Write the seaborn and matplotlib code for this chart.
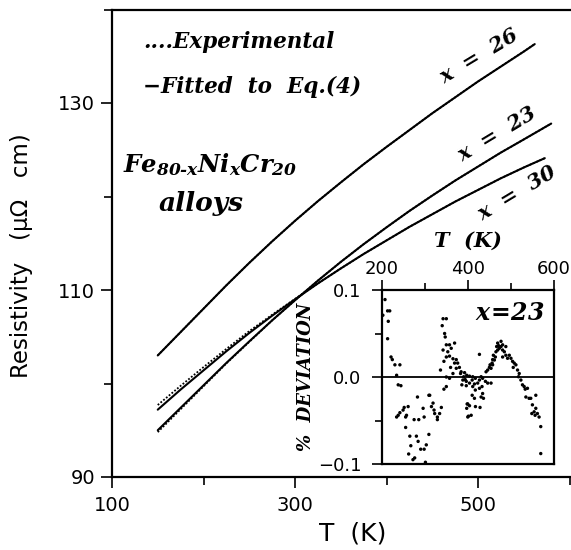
import matplotlib
matplotlib.use("Agg")
import matplotlib.pyplot as plt
import seaborn as sns
import pandas as pd

# Fitted resistivity (μΩ cm) of Fe(80-x)Ni(x)Cr(20) alloys vs temperature (K)
T_26 = [150, 175, 200, 225, 250, 275, 300, 325, 350, 375, 400, 425, 450, 475, 500, 525, 550, 562]
rho_26 = [103.0, 105.5, 108.0, 110.5, 112.9, 115.2, 117.4, 119.5, 121.5, 123.45, 125.3,
          127.1, 128.9, 130.6, 132.3, 133.9, 135.5, 136.3]
T_23 = [150, 175, 200, 225, 250, 275, 300, 325, 350, 375, 400, 425, 450, 475, 500, 525, 550, 580]
rho_23 = [95.0, 97.4, 99.8, 102.2, 104.5, 106.75, 108.9, 111.0, 113.0, 114.9, 116.7,
          118.45, 120.1, 121.7, 123.2, 124.7, 126.1, 127.8]
T_30 = [150, 175, 200, 225, 250, 275, 300, 325, 350, 375, 400, 425, 450, 475, 500, 525, 550, 573]
rho_30 = [97.2, 99.35, 101.4, 103.45, 105.4, 107.25, 109.0, 110.7, 112.3, 113.85, 115.3,
          116.75, 118.1, 119.45, 120.7, 121.95, 123.1, 124.1]

# Experimental resistivity
exp_rho_26 = [103.0, 105.5, 108.0, 110.5, 112.9, 115.2, 117.4, 119.5, 121.5, 123.45, 125.3,
              127.1, 128.9, 130.6, 132.3, 133.9, 135.5, 136.3]
exp_rho_23 = [94.8, 97.25, 99.7, 102.15, 104.45, 106.75, 108.9, 111.0, 113.0, 114.9, 116.7,
              118.45, 120.1, 121.7, 123.2, 124.7, 126.1, 127.8]
exp_rho_30 = [97.7, 99.75, 101.75, 103.7, 105.6, 107.35, 109.05, 110.7, 112.3, 113.85, 115.3,
              116.75, 118.1, 119.45, 120.7, 121.95, 123.1, 124.1]

# Percent deviation of the fit for x = 23
dev_T = [207, 202, 213, 218, 214.6, 213, 221, 224, 230, 241.6, 234, 237.7, 244,
         282.5, 309, 251.6, 249, 241.6, 237.7, 234, 257, 255, 255, 274.7, 285.5,
         295.6, 298, 315, 321, 322.5, 328.8, 328.8, 338, 264.7, 280, 284, 267,
         309, 303, 298, 290, 262, 276, 272, 301, 342, 349.6, 340, 345.6, 347,
         349.6, 357, 368.8, 342, 353, 361, 349.6, 357, 365, 372.7, 344, 368.8,
         376, 359.5, 372.7, 380, 336, 365, 349.6, 357, 382.7, 390, 393.5, 385.7,
         396, 344, 349.6, 398, 401, 384, 392, 397, 403.5, 411, 417, 388, 396,
         403.5, 409.7, 415, 422.6, 426.6, 430.5, 434, 440.5, 445.8, 453.6, 411,
         417, 426.6, 432.6, 434, 430.5, 436, 409.7, 415, 399.5, 397, 403.5, 407.4,
         399.5, 417.3, 428, 426.6, 442, 445.8, 449.7, 453.6, 456, 451.3, 457.3,
         457.3, 461.3, 463.6, 459, 465, 469, 472.8, 466.6, 471.2, 476.8, 480.5,
         469, 476.8, 480.5, 488, 484.5, 488, 480.5, 492, 496, 499.9, 503.6, 507.5,
         511.4, 505.2, 515.2, 519.1, 517.5, 523, 526.7, 530.6, 533, 538.3, 534.6,
         542, 546, 557.7, 549.8, 557.7, 553.8, 561.4, 565.3, 548.4, 556, 569.2,
         569.2, 318.7, 334, 311, 260.8]
dev_pct = [0.089, 0.071, 0.076, 0.076, 0.064, 0.044, 0.023, 0.020, 0.014, 0.014,
           0.002, -0.009, -0.010, -0.023, -0.021, -0.035, -0.038, -0.041, -0.044,
           -0.046, -0.044, -0.046, -0.058, -0.049, -0.049, -0.036, -0.046, -0.034,
           -0.038, -0.042, -0.046, -0.049, -0.035, -0.068, -0.068, -0.074, -0.079,
           -0.066, -0.078, -0.083, -0.083, -0.0885, -0.093, -0.095, -0.098, 0.067,
           0.067, 0.059, 0.050, 0.046, 0.037, 0.037, 0.039, 0.031, 0.029, 0.033,
           0.023, 0.024, 0.021, 0.020, 0.018, 0.016, 0.016, 0.011, 0.010, 0.011,
           0.008, 0.004, 0.000, -0.0015, 0.004, 0.0003, -0.003, -0.009, -0.010,
           -0.014, -0.011, -0.031, -0.045, 0.006, 0.005, 0.002, 0.001, 0.0003,
           -0.0015, -0.0035, -0.005, -0.007, -0.0035, -0.008, -0.007, -0.0035,
           0.0003, -0.0015, -0.005, -0.007, -0.007, -0.011, -0.015, -0.013, -0.011,
           -0.019, -0.023, -0.0245, -0.021, -0.0245, -0.031, -0.036, -0.033, -0.044,
           -0.046, -0.034, -0.035, 0.026, 0.006, 0.008, 0.011, 0.010, 0.016, 0.014,
           0.014, 0.020, 0.0195, 0.023, 0.025, 0.029, 0.031, 0.033, 0.035, 0.036,
           0.035, 0.031, 0.039, 0.041, 0.037, 0.035, 0.029, 0.025, 0.023, 0.0215,
           0.025, 0.0215, 0.018, 0.016, 0.014, 0.011, 0.008, 0.004, 0.0003, -0.0035,
           -0.009, -0.011, -0.014, -0.013, -0.023, -0.0245, -0.0245, -0.021, -0.032,
           -0.036, -0.040, -0.042, -0.046, -0.042, -0.044, -0.057, -0.088, -0.030,
           -0.042, -0.021, -0.034]

main_xticks = [100, 300, 500]
main_yticks = [90, 110, 130]
inset_xticks = [200, 400, 600]
inset_yticks = [-0.1, 0.0, 0.1]
inset_yticklabels = ["\u22120.1", "0.0", "0.1"]

sns.set_theme(style="ticks")
plt.rcParams["font.family"] = ["DejaVu Sans"]
plt.rcParams["text.color"] = "black"
plt.rcParams["axes.labelcolor"] = "black"
plt.rcParams["xtick.color"] = "black"
plt.rcParams["ytick.color"] = "black"
plt.rcParams["mathtext.fontset"] = "custom"
for key in ("mathtext.rm", "mathtext.it", "mathtext.bf"):
    plt.rcParams[key] = "DejaVu Serif:italic:bold"

W, H = 571, 550
fig = plt.figure(figsize=(W / 100, H / 100), dpi=100)
fig.patch.set_facecolor("white")


def fx(px):
    return px / W


def fy(py):
    return 1 - py / H


# main axes
ax = fig.add_axes([fx(112), fy(477), fx(569.5) - fx(112), fy(9.5) - fy(477)])
ax.set_facecolor("white")

serif_bi = dict(family="DejaVu Serif", style="italic", weight="bold", color="black")

fit = pd.concat([
    pd.DataFrame({"T": T_26, "rho": rho_26, "x": "26"}),
    pd.DataFrame({"T": T_23, "rho": rho_23, "x": "23"}),
    pd.DataFrame({"T": T_30, "rho": rho_30, "x": "30"}),
])
exp = pd.concat([
    pd.DataFrame({"T": T_26, "rho": exp_rho_26, "x": "26"}),
    pd.DataFrame({"T": T_23, "rho": exp_rho_23, "x": "23"}),
    pd.DataFrame({"T": T_30, "rho": exp_rho_30, "x": "30"}),
])
pal = {"26": "black", "23": "black", "30": "black"}
sns.lineplot(data=fit, x="T", y="rho", hue="x", palette=pal, ax=ax,
             linewidth=1.5, legend=False, estimator=None, sort=True)
sns.lineplot(data=exp, x="T", y="rho", hue="x", palette=pal, ax=ax,
             linewidth=1.3, linestyle=(0, (1, 1)), legend=False, estimator=None, sort=True)

ax.set_xlim(100, 600)
ax.set_ylim(90, 140)
ax.set_xticks(main_xticks)
ax.set_xticks([200, 400, 600], minor=True)
ax.set_yticks(main_yticks)
ax.set_yticks([100, 120, 140], minor=True)
ax.tick_params(axis="both", which="major", direction="out", length=8, width=1.2,
               color="black", labelsize=14, labelcolor="black", pad=4)
ax.tick_params(axis="x", which="major", pad=6)
ax.tick_params(axis="both", which="minor", direction="out", length=6, width=1.2,
               color="black")
for side in ("left", "bottom", "top"):
    ax.spines[side].set_color("black")
    ax.spines[side].set_linewidth(1.6)
ax.spines["right"].set_visible(False)

ax.set_xlabel("T  (K)", fontsize=18, color="black", va="center")
ax.xaxis.set_label_coords((353 - 112) / 457.5, (477 - 533) / 467.5)
ax.set_ylabel("Resistivity   (\u03bc\u03a9   cm)", fontsize=16.5, color="black", va="center")
ax.yaxis.set_label_coords((22 - 112) / 457.5, (477 - 256) / 467.5)

# annotations
fig.text(fx(143), fy(42), "....Experimental", fontsize=15.5, ha="left", va="center", **serif_bi)
fig.text(fx(143), fy(87), "\u2212Fitted  to  Eq.(4)", fontsize=15.5, ha="left", va="center", **serif_bi)
fig.text(fx(123), fy(165), r"$Fe_{80\text{-}x}Ni_{x}Cr_{20}$", fontsize=17.5,
         ha="left", va="center", color="black")
fig.text(fx(201), fy(203), "alloys", fontsize=19, ha="center", va="center", **serif_bi)

for label, cx, cy in (("x  =  26", 479, 56), ("x  =  23", 497, 134), ("x  =  30", 517, 193)):
    fig.text(fx(cx), fy(cy), label, fontsize=15, rotation=31, rotation_mode="anchor",
             ha="center", va="center", **serif_bi)

# inset: percent deviation for x = 23
axi = fig.add_axes([fx(382), fy(464), fx(554) - fx(382), fy(290) - fy(464)])
axi.set_facecolor("white")
sns.scatterplot(x=dev_T, y=dev_pct, ax=axi, color="black", s=6, marker="o",
                edgecolor="none", legend=False)
axi.axhline(0, color="black", linewidth=1.3)
axi.set_xlim(200, 600)
axi.set_ylim(-0.1, 0.1)
axi.xaxis.tick_top()
axi.xaxis.set_label_position("top")
axi.set_xticks(inset_xticks)
axi.set_xticks([300, 500], minor=True)
axi.set_yticks(inset_yticks)
axi.set_yticklabels(inset_yticklabels)
axi.set_yticks([-0.05, 0.05], minor=True)
axi.tick_params(axis="both", which="major", direction="out", length=7, width=1.2,
                color="black", labelsize=13, labelcolor="black", pad=2)
axi.tick_params(axis="y", which="major", pad=8)
axi.tick_params(axis="both", which="minor", direction="out", length=5, width=1.2,
                color="black")
for side in axi.spines:
    axi.spines[side].set_color("black")
    axi.spines[side].set_linewidth(1.6)
axi.set_xlabel("T  (K)", fontsize=15, labelpad=9, **serif_bi)
axi.set_ylabel("%  DEVIATION", fontsize=13, labelpad=2, **serif_bi)
axi.text(0.95, 0.87, r"$x\!=\!23$", transform=axi.transAxes, fontsize=17,
         ha="right", va="center", color="black")

fig.savefig("out.png", dpi=100, facecolor="white")
